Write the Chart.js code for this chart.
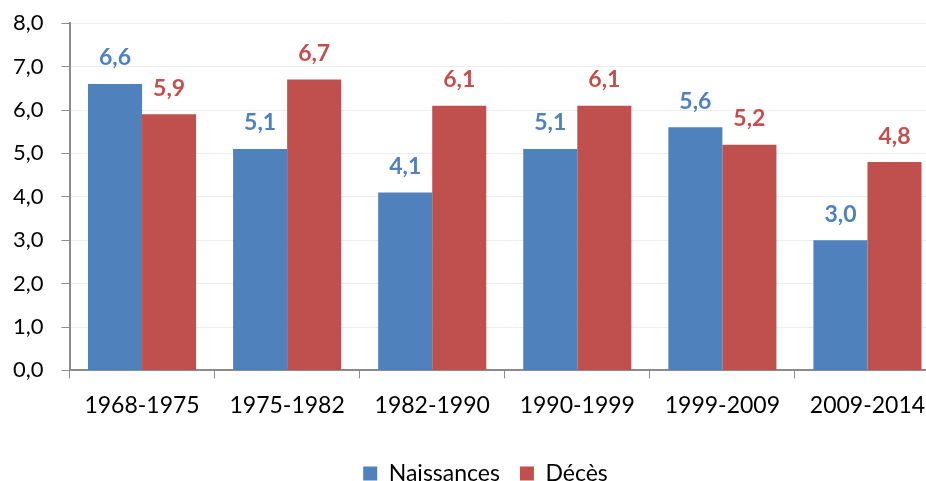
<!DOCTYPE html>
<html>
<head>
<meta charset="utf-8">
<script src="https://cdn.jsdelivr.net/npm/chart.js@4"></script>
<style>
  html, body { margin: 0; padding: 0; background: #fff; overflow: hidden; }
  #wrap { width: 960px; height: 503px; margin-left: -5px; margin-top: -8px; }
</style>
</head>
<body>
<div id="wrap"><canvas id="bar-chart"></canvas></div>
<script>
const periods = ['1968-1975', '1975-1982', '1982-1990', '1990-1999', '1999-2009', '2009-2014'];
const naissances = [6.6, 5.1, 4.1, 5.1, 5.6, 3.0];
const deces = [5.9, 6.7, 6.1, 6.1, 5.2, 4.8];
const seriesNames = ['Naissances', 'Décès'];
const blue = '#4F81BD';
const red = '#C0504D';
const fontFamily = 'Lato, "Open Sans", sans-serif';

// value labels above each bar, french decimal comma
const valueLabels = {
  id: 'valueLabels',
  afterLayout(chart) {
    // legend sits a bit right of centre in the original
    chart.legend.left += 18;
    chart.legend.right += 18;
  },
  afterDatasetsDraw(chart) {
    const ctx = chart.ctx;
    ctx.save();
    ctx.font = 'bold 23px ' + fontFamily;
    ctx.textAlign = 'center';
    ctx.textBaseline = 'middle';
    chart.data.datasets.forEach((ds, i) => {
      const meta = chart.getDatasetMeta(i);
      ctx.fillStyle = ds.backgroundColor;
      meta.data.forEach((bar, j) => {
        ctx.fillText(ds.data[j].toFixed(1).replace('.', ','), bar.x, bar.y - 26);
      });
    });
    ctx.restore();
  }
};

const ctx = document.getElementById('bar-chart').getContext('2d');
new Chart(ctx, {
  type: 'bar',
  data: {
    labels: periods,
    datasets: [
      { label: seriesNames[0], data: naissances, backgroundColor: blue, categoryPercentage: 0.745, barPercentage: 1 },
      { label: seriesNames[1], data: deces, backgroundColor: red, categoryPercentage: 0.745, barPercentage: 1 }
    ]
  },
  options: {
    responsive: true,
    maintainAspectRatio: false,
    animation: false,
    layout: { padding: { top: 4, right: 15, left: 0, bottom: 0 } },
    plugins: {
      tooltip: { enabled: false },
      legend: {
        position: 'bottom',
        labels: {
          color: '#000',
          font: { family: fontFamily, size: 23 },
          boxWidth: 14,
          boxHeight: 14,
          padding: 20
        }
      }
    },
    scales: {
      x: {
        grid: {
          display: true,
          drawOnChartArea: false,
          drawTicks: true,
          tickLength: 8,
          tickColor: '#8c8c8c',
          offset: true
        },
        border: { color: '#8c8c8c', width: 2 },
        ticks: { color: '#000', font: { family: fontFamily, size: 23 }, padding: 13 },
        afterFit: (scale) => { scale.height += 10; }
      },
      y: {
        min: 0,
        max: 8,
        ticks: {
          stepSize: 1,
          color: '#000',
          font: { family: fontFamily, size: 22 },
          padding: 18,
          callback: (v) => v.toFixed(1).replace('.', ',')
        },
        grid: { color: '#ececec', tickColor: '#8c8c8c', tickLength: 8 },
        border: { color: '#8c8c8c', width: 2 }
      }
    }
  },
  plugins: [valueLabels]
});
</script>
</body>
</html>
